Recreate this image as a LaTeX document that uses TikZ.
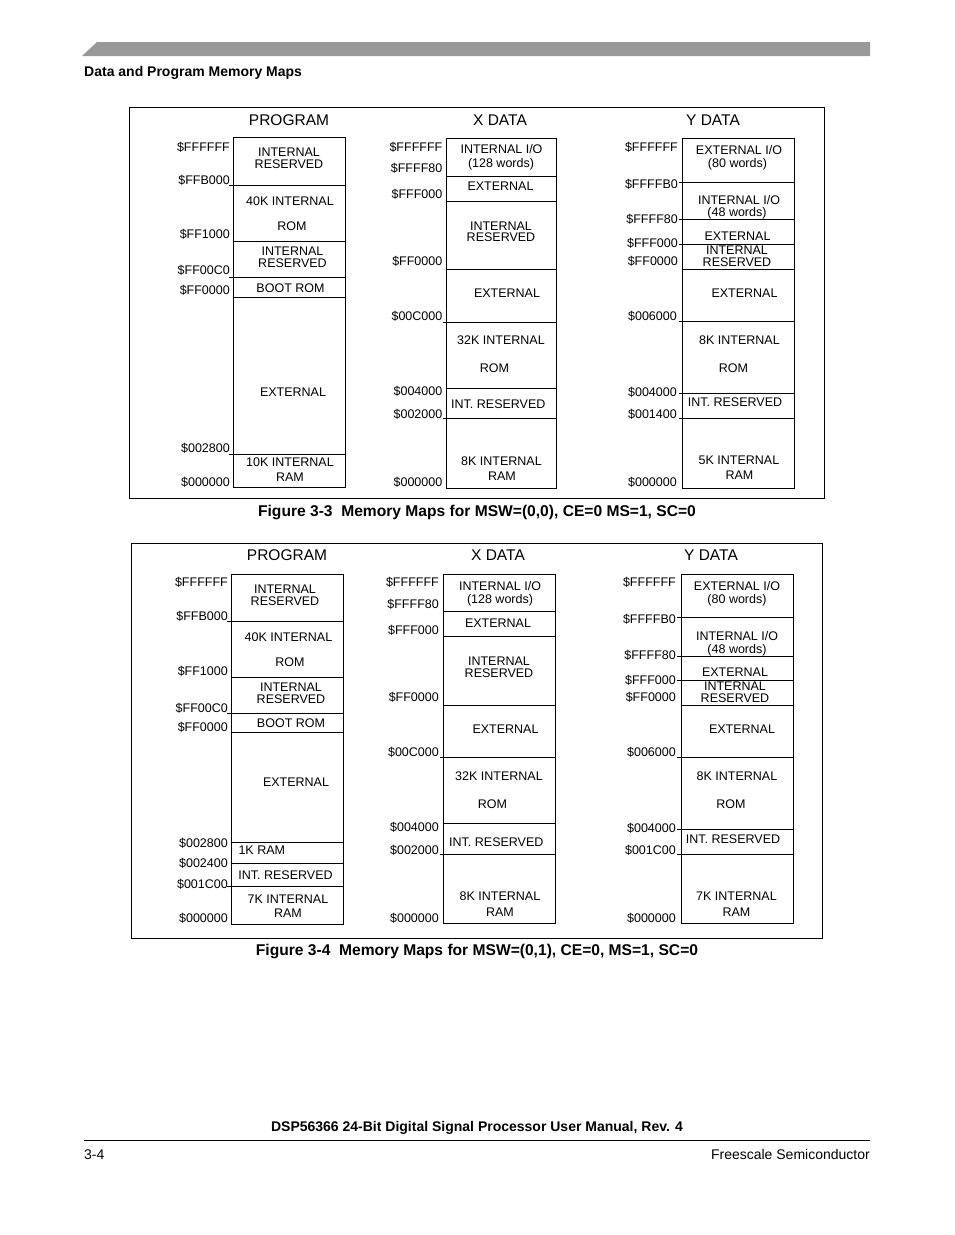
\documentclass[tikz,border=0pt]{standalone}
\usepackage{fontspec}
\setmainfont{Liberation Sans}
\newcommand\fsm{\fontsize{12.5}{13}\selectfont}
\newcommand\fhd{\fontsize{15.5}{18}\selectfont}
\newcommand\fcap{\fontsize{15.6}{18}\selectfont\bfseries}
\newcommand\fbody{\fontsize{14}{17}\selectfont}
\definecolor{bargray}{RGB}{153,153,153}
\begin{document}
\begin{tikzpicture}[x=1pt,y=-1pt,
  mem/.style={draw=black, line width=0.9pt},
  frame/.style={draw=black, line width=0.9pt},
  lbl/.style={anchor=east, inner sep=0pt, font=\fsm, text height=9pt, text depth=0pt},
  txt/.style={anchor=center, inner sep=0pt, font=\fsm, text height=9pt, text depth=0pt},
  txtl/.style={txt, anchor=west},
  hdr/.style={anchor=center, inner sep=0pt, font=\fhd, text height=11.1pt, text depth=0pt},
  capt/.style={anchor=base, inner sep=0pt, font=\fcap},
  body/.style={anchor=base, inner sep=0pt, font=\fbody}]
\useasboundingbox (0,0) rectangle (954,1235);
\fill[white] (0,0) rectangle (954,1235);
% page header
\fill[bargray] (82,56) -- (97,42) -- (870,42) -- (870,56) -- cycle;
\node[body, anchor=base west, font=\fbody\bfseries] (title) at (84,76) {Data and Program Memory Maps};

% ================= Figure 3-3 =================
\draw[frame] (129,107) rectangle (824,498);
% PROGRAM
\node[hdr] (a-h) at (289,119.5) {PROGRAM};
\draw[mem] (233,137) rectangle (345,487);
\draw[mem] (229,185) -- (345,185);
\draw[mem] (233,241) -- (345,241);
\draw[mem] (229,277) -- (345,277);
\draw[mem] (233,297) -- (345,297);
\draw[mem] (229,454) -- (345,454);
\node[lbl] (a-l1) at (230,147) {\$FFFFFF};
\node[lbl] (a-l2) at (230,179.5) {\$FFB000};
\node[lbl] (a-l3) at (230,234) {\$FF1000};
\node[lbl] (a-l4) at (230,270) {\$FF00C0};
\node[lbl] (a-l5) at (230,289.5) {\$FF0000};
\node[lbl] (a-l6) at (230,447.5) {\$002800};
\node[lbl] (a-l7) at (230,481.5) {\$000000};
\node[txt] (a-t1) at (289,152) {INTERNAL};
\node[txt] (a-t2) at (289,163.5) {RESERVED};
\node[txt] (a-t3) at (290,200.5) {40K INTERNAL};
\node[txt] (a-t4) at (292,225.5) {ROM};
\node[txt] (a-t5) at (292.5,251) {INTERNAL};
\node[txt] (a-t6) at (292.5,262.5) {RESERVED};
\node[txt] (a-t7) at (290.5,287.5) {BOOT ROM};
\node[txt] (a-t8) at (293,391.5) {EXTERNAL};
\node[txt] (a-t9) at (290,461.5) {10K INTERNAL};
\node[txt] (a-t10) at (290,476.5) {RAM};
% X DATA
\node[hdr] (b-h) at (500,119.5) {X DATA};
\draw[mem] (446,138) rectangle (556,488);
\draw[mem] (446,176) -- (556,176);
\draw[mem] (446,201) -- (556,201);
\draw[mem] (446,269) -- (556,269);
\draw[mem] (443,322) -- (556,322);
\draw[mem] (446,388) -- (556,388);
\draw[mem] (443,418) -- (556,418);
\node[lbl] (b-l1) at (442.5,147) {\$FFFFFF};
\node[lbl] (b-l2) at (442.5,168) {\$FFFF80};
\node[lbl] (b-l3) at (442.5,193.5) {\$FFF000};
\node[lbl] (b-l4) at (442.5,260.5) {\$FF0000};
\node[lbl] (b-l5) at (442.5,316) {\$00C000};
\node[lbl] (b-l6) at (442.5,390.5) {\$004000};
\node[lbl] (b-l7) at (442.5,414) {\$002000};
\node[lbl] (b-l8) at (442.5,481.5) {\$000000};
\node[txt] (b-t1) at (501.5,149) {INTERNAL I/O};
\node[txt] (b-t2) at (501,162.5) {(128 words)};
\node[txt] (b-t3) at (500.5,185.5) {EXTERNAL};
\node[txt] (b-t4) at (501,225.5) {INTERNAL};
\node[txt] (b-t5) at (501,237) {RESERVED};
\node[txt] (b-t6) at (507,293) {EXTERNAL};
\node[txt] (b-t7) at (501,340) {32K INTERNAL};
\node[txt] (b-t8) at (494.5,368) {ROM};
\node[txtl] (b-t9) at (451,404.3) {INT. RESERVED};
\node[txt] (b-t10) at (501.5,460.5) {8K INTERNAL};
\node[txt] (b-t11) at (502,475.5) {RAM};
% Y DATA
\node[hdr] (c-h) at (713,119.5) {Y DATA};
\draw[mem] (682,138) rectangle (794,488);
\draw[mem] (679,182) -- (794,182);
\draw[mem] (679,219) -- (794,219);
\draw[mem] (679,244) -- (794,244);
\draw[mem] (682,269) -- (794,269);
\draw[mem] (679,321) -- (794,321);
\draw[mem] (679,393) -- (794,393);
\draw[mem] (679,418) -- (794,418);
\node[lbl] (c-l1) at (678,147) {\$FFFFFF};
\node[lbl] (c-l2) at (678,183.5) {\$FFFFB0};
\node[lbl] (c-l3) at (678,219) {\$FFFF80};
\node[lbl] (c-l4) at (678,243) {\$FFF000};
\node[lbl] (c-l5) at (678,260.5) {\$FF0000};
\node[lbl] (c-l6) at (677,316) {\$006000};
\node[lbl] (c-l7) at (677,391.5) {\$004000};
\node[lbl] (c-l8) at (677,414) {\$001400};
\node[lbl] (c-l9) at (677,481.5) {\$000000};
\node[txt] (c-t1) at (739,149.5) {EXTERNAL I/O};
\node[txt] (c-t2) at (737.5,163) {(80 words)};
\node[txt] (c-t3) at (739,200) {INTERNAL I/O};
\node[txt] (c-t4) at (737,212) {(48 words)};
\node[txt] (c-t5) at (737.5,236) {EXTERNAL};
\node[txt] (c-t6) at (737,250.3) {INTERNAL};
\node[txt] (c-t7) at (737,261.7) {RESERVED};
\node[txt] (c-t8) at (744.5,293) {EXTERNAL};
\node[txt] (c-t9) at (739.5,340) {8K INTERNAL};
\node[txt] (c-t10) at (733.5,367.7) {ROM};
\node[txt] (c-t11) at (735,402.3) {INT. RESERVED};
\node[txt] (c-t12) at (739,460) {5K INTERNAL};
\node[txt] (c-t13) at (739.5,475) {RAM};
\node[capt] (cap1) at (477,516.5) {Figure 3-3\ \ Memory Maps for MSW=(0,0), CE=0 MS=1, SC=0};

% ================= Figure 3-4 =================
\draw[frame] (131,543) rectangle (822,938);
% PROGRAM
\node[hdr] (d-h) at (287,555) {PROGRAM};
\draw[mem] (231,574) rectangle (343,924);
\draw[mem] (227,621) -- (343,621);
\draw[mem] (231,677) -- (343,677);
\draw[mem] (227,713) -- (343,713);
\draw[mem] (231,732.5) -- (343,732.5);
\draw[mem] (231,842.5) -- (343,842.5);
\draw[mem] (231,863.5) -- (343,863.5);
\draw[mem] (227,886) -- (343,886);
\node[lbl] (d-l1) at (228,582) {\$FFFFFF};
\node[lbl] (d-l2) at (228,616) {\$FFB000};
\node[lbl] (d-l3) at (228,671) {\$FF1000};
\node[lbl] (d-l4) at (228,707.5) {\$FF00C0};
\node[lbl] (d-l5) at (228,727) {\$FF0000};
\node[lbl] (d-l6) at (228,842.5) {\$002800};
\node[lbl] (d-l7) at (228,862.5) {\$002400};
\node[lbl] (d-l8) at (228,883.5) {\$001C00};
\node[lbl] (d-l9) at (228,918) {\$000000};
\node[txt] (d-t1) at (285,589) {INTERNAL};
\node[txt] (d-t2) at (285,600.5) {RESERVED};
\node[txt] (d-t3) at (288.5,637) {40K INTERNAL};
\node[txt] (d-t4) at (290,662) {ROM};
\node[txt] (d-t5) at (291,687) {INTERNAL};
\node[txt] (d-t6) at (291,699) {RESERVED};
\node[txt] (d-t7) at (291,722.5) {BOOT ROM};
\node[txt] (d-t8) at (296,782) {EXTERNAL};
\node[txtl] (d-t9) at (238.3,849.5) {1K RAM};
\node[txt] (d-t10) at (285.5,874.5) {INT. RESERVED};
\node[txt] (d-t11) at (288,898.5) {7K INTERNAL};
\node[txt] (d-t12) at (288,912.5) {RAM};
% X DATA
\node[hdr] (e-h) at (498,555) {X DATA};
\draw[mem] (443,574) rectangle (555,923.5);
\draw[mem] (443,611) -- (555,611);
\draw[mem] (443,636.5) -- (555,636.5);
\draw[mem] (443,705) -- (555,705);
\draw[mem] (440,757.5) -- (555,757.5);
\draw[mem] (443,823.5) -- (555,823.5);
\draw[mem] (440,854.5) -- (555,854.5);
\node[lbl] (e-l1) at (439,582) {\$FFFFFF};
\node[lbl] (e-l2) at (439,604) {\$FFFF80};
\node[lbl] (e-l3) at (439,629.5) {\$FFF000};
\node[lbl] (e-l4) at (439,696.5) {\$FF0000};
\node[lbl] (e-l5) at (439,751.5) {\$00C000};
\node[lbl] (e-l6) at (439,826.5) {\$004000};
\node[lbl] (e-l7) at (439,849.5) {\$002000};
\node[lbl] (e-l8) at (439,918) {\$000000};
\node[txt] (e-t1) at (500,585.5) {INTERNAL I/O};
\node[txt] (e-t2) at (500,598.5) {(128 words)};
\node[txt] (e-t3) at (498,623) {EXTERNAL};
\node[txt] (e-t4) at (499,661) {INTERNAL};
\node[txt] (e-t5) at (499,672.5) {RESERVED};
\node[txt] (e-t6) at (505.5,729) {EXTERNAL};
\node[txt] (e-t7) at (499,775.5) {32K INTERNAL};
\node[txt] (e-t8) at (492.5,803.5) {ROM};
\node[txtl] (e-t9) at (449,841.5) {INT. RESERVED};
\node[txt] (e-t10) at (500,895.5) {8K INTERNAL};
\node[txt] (e-t11) at (500,911.5) {RAM};
% Y DATA
\node[hdr] (f-h) at (711,555) {Y DATA};
\draw[mem] (681,574) rectangle (793,923.5);
\draw[mem] (677,617.5) -- (793,617.5);
\draw[mem] (677,656) -- (793,656);
\draw[mem] (677,680.5) -- (793,680.5);
\draw[mem] (681,705) -- (793,705);
\draw[mem] (677,757.5) -- (793,757.5);
\draw[mem] (677,829) -- (793,829);
\draw[mem] (677,854.5) -- (793,854.5);
\node[lbl] (f-l1) at (676,582) {\$FFFFFF};
\node[lbl] (f-l2) at (676,618.5) {\$FFFFB0};
\node[lbl] (f-l3) at (676,655) {\$FFFF80};
\node[lbl] (f-l4) at (676,679.5) {\$FFF000};
\node[lbl] (f-l5) at (676,696.5) {\$FF0000};
\node[lbl] (f-l6) at (676,751.5) {\$006000};
\node[lbl] (f-l7) at (676,827.5) {\$004000};
\node[lbl] (f-l8) at (676,850) {\$001C00};
\node[lbl] (f-l9) at (676,918) {\$000000};
\node[txt] (f-t1) at (737,585.5) {EXTERNAL I/O};
\node[txt] (f-t2) at (737,598.5) {(80 words)};
\node[txt] (f-t3) at (737,635.5) {INTERNAL I/O};
\node[txt] (f-t4) at (737,648.5) {(48 words)};
\node[txt] (f-t5) at (735,671.5) {EXTERNAL};
\node[txt] (f-t6) at (735,686) {INTERNAL};
\node[txt] (f-t7) at (735,697.5) {RESERVED};
\node[txt] (f-t8) at (742,729) {EXTERNAL};
\node[txt] (f-t9) at (737,775.5) {8K INTERNAL};
\node[txt] (f-t10) at (731,803.5) {ROM};
\node[txt] (f-t11) at (733,838.5) {INT. RESERVED};
\node[txt] (f-t12) at (736.5,895.5) {7K INTERNAL};
\node[txt] (f-t13) at (736.5,911.5) {RAM};
\node[capt] (cap2) at (477,955.5) {Figure 3-4\ \ Memory Maps for MSW=(0,1), CE=0, MS=1, SC=0};

% page footer
\node[capt, font=\fbody\bfseries] (foot) at (477,1131) {DSP56366 24-Bit Digital Signal Processor User Manual, Rev. 4};
\draw[line width=1pt] (84,1140) -- (870,1140);
\node[body, anchor=base west] (pg) at (84,1159) {3-4};
\node[body, anchor=base east] (pub) at (870,1159) {Freescale Semiconductor};
\end{tikzpicture}
\end{document}
